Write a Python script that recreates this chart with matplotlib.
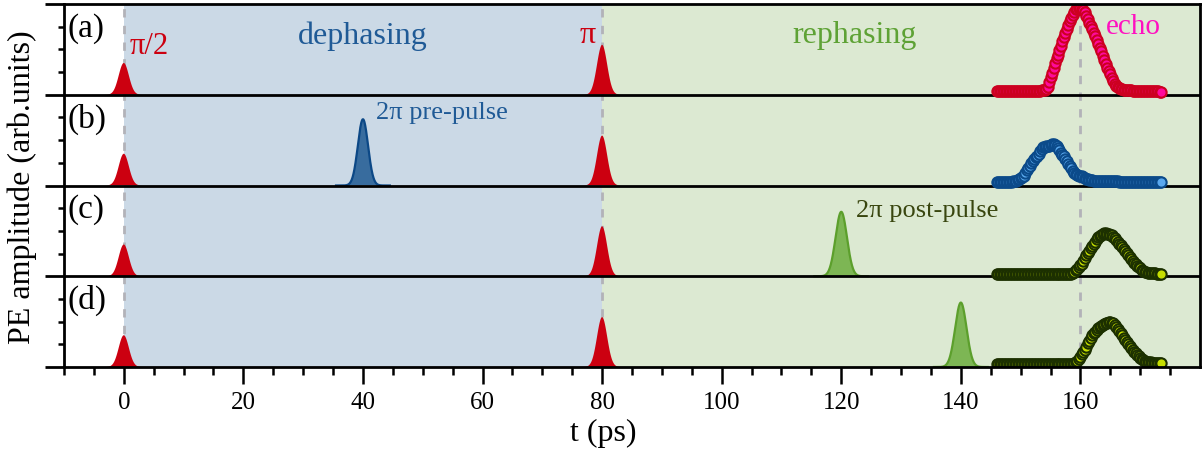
import numpy as np
import matplotlib
matplotlib.use("Agg")
import matplotlib.pyplot as plt
from matplotlib.ticker import FixedLocator

plt.rcParams['font.family'] = ['Liberation Serif', 'DejaVu Serif']

# ---------------- data ----------------
panel_labels = ['(a)', '(b)', '(c)', '(d)']
panel_offsets = [3, 2, 1, 0]

# excitation pulses present in every panel (pi/2 and pi)
main_pulse_t = [0, 80]
main_pulse_h = [0.35, 0.55]
# additional 2pi pulse per panel (time, height)
extra_pulse_t = [None, 40, 120, 140]
extra_pulse_h = [None, 0.73, 0.71, 0.71]

# sampling times of the measured photon-echo traces (ps), 146.0 ... 173.5
echo_t = np.arange(146.0, 173.51, 0.25)

# each row holds 8 consecutive samples (2 ps)
echo_a = [
    0.04, 0.04, 0.04, 0.04, 0.04, 0.04, 0.04, 0.04,
    0.04, 0.04, 0.04, 0.04, 0.04, 0.04, 0.04, 0.04,
    0.04, 0.04, 0.04, 0.04, 0.04, 0.04, 0.04, 0.04,
    0.04, 0.04, 0.04, 0.04, 0.04, 0.04, 0.05, 0.05,
    0.05, 0.06, 0.08, 0.14, 0.20, 0.24, 0.29, 0.35,
    0.40, 0.44, 0.49, 0.54, 0.59, 0.64, 0.68, 0.73,
    0.77, 0.81, 0.85, 0.88, 0.91, 0.94, 0.95, 0.96,
    0.96, 0.95, 0.93, 0.91, 0.87, 0.83, 0.79, 0.76,
    0.72, 0.68, 0.65, 0.60, 0.56, 0.52, 0.48, 0.43,
    0.38, 0.34, 0.30, 0.26, 0.23, 0.19, 0.15, 0.12,
    0.10, 0.08, 0.07, 0.06, 0.06, 0.05, 0.05, 0.05,
    0.05, 0.05, 0.05, 0.04, 0.04, 0.04, 0.04, 0.04,
    0.04, 0.04, 0.04, 0.04, 0.04, 0.04, 0.04, 0.04,
    0.04, 0.04, 0.04, 0.04, 0.04, 0.03, 0.03]

echo_b = [
    0.04, 0.04, 0.04, 0.04, 0.04, 0.04, 0.04, 0.04,
    0.04, 0.04, 0.04, 0.045, 0.05, 0.05, 0.06, 0.07,
    0.08, 0.095, 0.11, 0.14, 0.17, 0.195, 0.22, 0.245,
    0.27, 0.29, 0.31, 0.33, 0.35, 0.38, 0.40, 0.42,
    0.42, 0.43, 0.44, 0.44, 0.45, 0.46, 0.46, 0.45,
    0.43, 0.41, 0.39, 0.36, 0.34, 0.32, 0.29, 0.27,
    0.24, 0.21, 0.19, 0.16, 0.14, 0.13, 0.12, 0.11,
    0.10, 0.10, 0.09, 0.08, 0.07, 0.07, 0.06, 0.06,
    0.06, 0.05, 0.05, 0.05, 0.05, 0.05, 0.05, 0.05,
    0.05, 0.05, 0.05, 0.05, 0.05, 0.05, 0.05, 0.05,
    0.05, 0.05, 0.04, 0.04, 0.04, 0.04, 0.04, 0.04,
    0.04, 0.04, 0.04, 0.04, 0.04, 0.04, 0.04, 0.04,
    0.04, 0.04, 0.04, 0.04, 0.04, 0.04, 0.04, 0.04,
    0.04, 0.04, 0.04, 0.04, 0.04, 0.04, 0.04]

echo_c = [
    0.03, 0.03, 0.03, 0.03, 0.03, 0.03, 0.03, 0.03,
    0.03, 0.03, 0.03, 0.03, 0.03, 0.03, 0.03, 0.03,
    0.03, 0.03, 0.03, 0.03, 0.03, 0.03, 0.03, 0.03,
    0.03, 0.03, 0.03, 0.03, 0.03, 0.03, 0.03, 0.03,
    0.03, 0.03, 0.03, 0.03, 0.03, 0.03, 0.03, 0.03,
    0.03, 0.03, 0.03, 0.03, 0.03, 0.03, 0.03, 0.03,
    0.03, 0.03, 0.03, 0.04, 0.05, 0.07, 0.08, 0.10,
    0.12, 0.14, 0.17, 0.20, 0.23, 0.26, 0.28, 0.31,
    0.33, 0.36, 0.38, 0.41, 0.43, 0.44, 0.46, 0.47,
    0.48, 0.48, 0.47, 0.47, 0.46, 0.45, 0.43, 0.42,
    0.40, 0.38, 0.36, 0.34, 0.32, 0.30, 0.28, 0.26,
    0.23, 0.21, 0.19, 0.17, 0.15, 0.13, 0.11, 0.10,
    0.09, 0.07, 0.06, 0.05, 0.05, 0.04, 0.04, 0.04,
    0.04, 0.04, 0.04, 0.03, 0.03, 0.03, 0.03]

echo_d = [
    0.03, 0.03, 0.03, 0.03, 0.03, 0.03, 0.03, 0.03,
    0.03, 0.03, 0.03, 0.03, 0.03, 0.03, 0.03, 0.03,
    0.03, 0.03, 0.03, 0.03, 0.03, 0.03, 0.03, 0.03,
    0.03, 0.03, 0.03, 0.03, 0.03, 0.03, 0.03, 0.03,
    0.03, 0.03, 0.03, 0.03, 0.03, 0.03, 0.03, 0.03,
    0.03, 0.03, 0.03, 0.03, 0.03, 0.03, 0.03, 0.03,
    0.03, 0.03, 0.03, 0.03, 0.04, 0.05, 0.07, 0.09,
    0.11, 0.14, 0.16, 0.19, 0.22, 0.26, 0.29, 0.32,
    0.35, 0.37, 0.39, 0.41, 0.43, 0.44, 0.45, 0.46,
    0.47, 0.48, 0.49, 0.50, 0.50, 0.49, 0.48, 0.46,
    0.44, 0.42, 0.40, 0.37, 0.35, 0.32, 0.30, 0.27,
    0.25, 0.23, 0.21, 0.19, 0.17, 0.15, 0.13, 0.12,
    0.10, 0.09, 0.08, 0.07, 0.06, 0.05, 0.05, 0.05,
    0.04, 0.04, 0.04, 0.04, 0.04, 0.04, 0.04]

echo_traces = [echo_a, echo_b, echo_c, echo_d]

x_major = [0, 20, 40, 60, 80, 100, 120, 140, 160]
x_minor = list(range(-10, 180, 5))

# ---------------- styles ----------------
c_red = '#cc0010'
c_blue_bg = '#cbd9e6'
c_green_bg = '#dce9d2'
marker_face = ['#ff0a9c', '#5aa8ee', '#c6de00', '#c6de00']
marker_edge = ['#cc0020', '#0b4a8a', '#1c3000', '#1c3000']
extra_fill = [None, '#386c9e', '#7db654', '#7db654']
extra_edge = [None, '#0c4886', '#5c9f2c', '#5c9f2c']
extra_sigma = [None, 0.85, 0.95, 0.95]
red_sigma = 0.85

fig = plt.figure(figsize=(12.03, 4.56), dpi=100)
ax = fig.add_axes([64 / 1203, 1 - 368 / 456, (1200 - 64) / 1203, (368 - 5) / 456])
ax.set_xlim(-10, 180)
ax.set_ylim(0, 4)

# dephasing / rephasing regions
ax.axvspan(0, 80, color=c_blue_bg, zorder=0, lw=0)
ax.axvspan(80, 180, color=c_green_bg, zorder=0, lw=0)

# pulse-timing guides
for xv in (0, 80, 160):
    ax.axvline(xv, color='#b2b2b8', lw=2.0, ls=(0, (3, 3)), zorder=1)


def pulse(center, height, sigma, off, fc, ec, lw):
    tt = np.linspace(center - 4.5, center + 4.5, 300)
    yy = off + height * np.exp(-(tt - center) ** 2 / (2 * sigma ** 2))
    ax.fill_between(tt, off, yy, facecolor=fc, edgecolor='none', zorder=2)
    if lw > 0:
        ax.plot(tt, yy, color=ec, lw=lw, zorder=2)


for i, off in enumerate(panel_offsets):
    for t0, h in zip(main_pulse_t, main_pulse_h):
        pulse(t0, h, red_sigma, off, c_red, c_red, 0)
    if extra_pulse_t[i] is not None:
        pulse(extra_pulse_t[i], extra_pulse_h[i], extra_sigma[i], off,
              extra_fill[i], extra_edge[i], 1.6)
    ax.plot(echo_t, off + np.asarray(echo_traces[i]), ls='none', marker='o',
            ms=7.4, mfc=marker_face[i], mec=marker_edge[i], mew=1.5, zorder=5)
    ax.text(-9.4, off + 0.74, panel_labels[i], fontsize=24, va='center', ha='left', zorder=6)

# panel separators
for yv in (1, 2, 3):
    ax.axhline(yv, color='black', lw=2.0, zorder=4)

# annotations
ax.text(1.0, 3.54, 'π/2', color=c_red, fontsize=22, ha='left', va='center', zorder=6)
ax.text(40, 3.66, 'dephasing', color='#1f5a96', fontsize=23, ha='center', va='center', zorder=6)
ax.text(77.6, 3.66, 'π', color=c_red, fontsize=23, ha='center', va='center', zorder=6)
ax.text(122.3, 3.66, 'rephasing', color='#5ea235', fontsize=23, ha='center', va='center', zorder=6)
ax.text(164.2, 3.76, 'echo', color='#ff10c0', fontsize=21, ha='left', va='center', zorder=6)
ax.text(42.1, 2.81, '2π pre-pulse', color='#1f5a96', fontsize=19, ha='left', va='center', zorder=6)
ax.text(122.4, 1.73, '2π post-pulse', color='#39460f', fontsize=19, ha='left', va='center', zorder=6)

# axes styling
for s in ax.spines.values():
    s.set_linewidth(2.0)
    s.set_zorder(7)

ax.xaxis.set_major_locator(FixedLocator(x_major))
ax.xaxis.set_minor_locator(FixedLocator(x_minor))
ax.yaxis.set_major_locator(FixedLocator([0, 1, 2, 3, 4]))
ax.yaxis.set_minor_locator(FixedLocator([k + q for k in range(4) for q in (0.25, 0.5, 0.75)]))
ax.set_yticklabels([])
ax.tick_params(axis='x', which='major', direction='out', length=12, width=1.8,
               labelsize=18, pad=5)
ax.tick_params(axis='x', which='minor', direction='out', length=6, width=1.8)
ax.tick_params(axis='y', which='major', direction='out', length=14, width=2.0)
ax.tick_params(axis='y', which='minor', direction='out', length=4.5, width=1.8)

# axis titles
fig.text(603 / 1203, 1 - 433 / 456, 't (ps)', fontsize=23, ha='center', va='center')
fig.text(22 / 1203, 1 - 187 / 456, 'PE amplitude (arb.units)', fontsize=23,
         ha='center', va='center', rotation=90)

fig.savefig('out.png', dpi=100)
